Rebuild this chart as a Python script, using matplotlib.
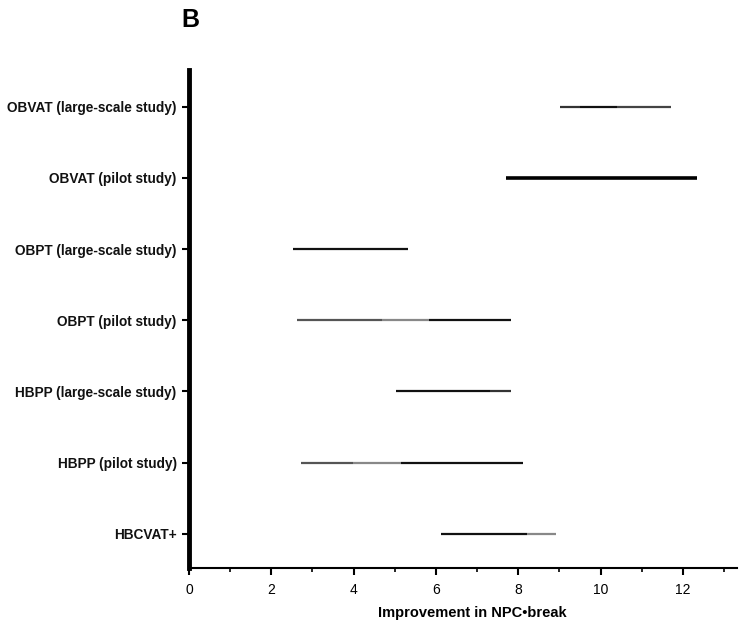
import matplotlib
matplotlib.use("Agg")
import matplotlib.pyplot as plt
from matplotlib.ticker import MultipleLocator

plt.rcParams['font.family'] = ['Liberation Sans', 'DejaVu Sans']

# studies, bottom to top
studies = ['HBCVAT+', 'HBPP (pilot study)', 'HBPP (large-scale study)',
           'OBPT (pilot study)', 'OBPT (large-scale study)',
           'OBVAT (pilot study)', 'OBVAT (large-scale study)']
lows = [6.13, 2.72, 5.02, 2.62, 2.52, 7.71, 9.02]
highs = [8.92, 8.12, 7.81, 7.81, 5.31, 12.34, 11.71]
# points where the line changes shade (scan artefacts in the source)
breaks = [[8.2], [3.98, 5.16], [7.3], [4.7, 5.84], [], [], [9.5, 10.4]]
shades = [['#111111', '#888888'],
          ['#555555', '#888888', '#111111'],
          ['#111111', '#333333'],
          ['#555555', '#888888', '#111111'],
          ['#111111'],
          ['#000000'],
          ['#333333', '#111111', '#444444']]
widths = [1.6, 1.6, 1.6, 1.6, 1.6, 2.6, 1.6]

fig = plt.figure(figsize=(7.5, 6.29), dpi=100)
ax = fig.add_axes([0.252, 0.097, 0.73, 0.792])

for i in range(len(studies)):
	pts = [lows[i]] + breaks[i] + [highs[i]]
	for j in range(len(pts) - 1):
		ax.plot([pts[j], pts[j + 1]], [i, i], color=shades[i][j],
				linewidth=widths[i], solid_capstyle='butt')

ax.set_xlim(0, 13.3)
ax.set_ylim(-0.48, 6.52)
ax.set_yticks(range(len(studies)))
ax.set_yticklabels(studies, fontsize=9.8, fontweight='bold', color='#111111')
ax.xaxis.set_major_locator(MultipleLocator(2))
ax.xaxis.set_minor_locator(MultipleLocator(1))
ax.tick_params(axis='x', which='major', length=5, width=1.5, labelsize=10, pad=6)
ax.tick_params(axis='x', which='minor', length=3, width=1.2)
ax.tick_params(axis='y', length=5, width=1.5, pad=4)

ax.spines['top'].set_visible(False)
ax.spines['right'].set_visible(False)
ax.spines['left'].set_linewidth(3.5)
ax.spines['bottom'].set_linewidth(1.5)

ax.set_xlabel('Improvement in NPC\u2022break', fontsize=10.5, fontweight='bold', labelpad=6)
ax.xaxis.label.set_x(0.518)

fig.text(0.254, 0.968, 'B', fontsize=18, fontweight='bold', ha='center', va='center')

fig.savefig('out.png', dpi=100)
